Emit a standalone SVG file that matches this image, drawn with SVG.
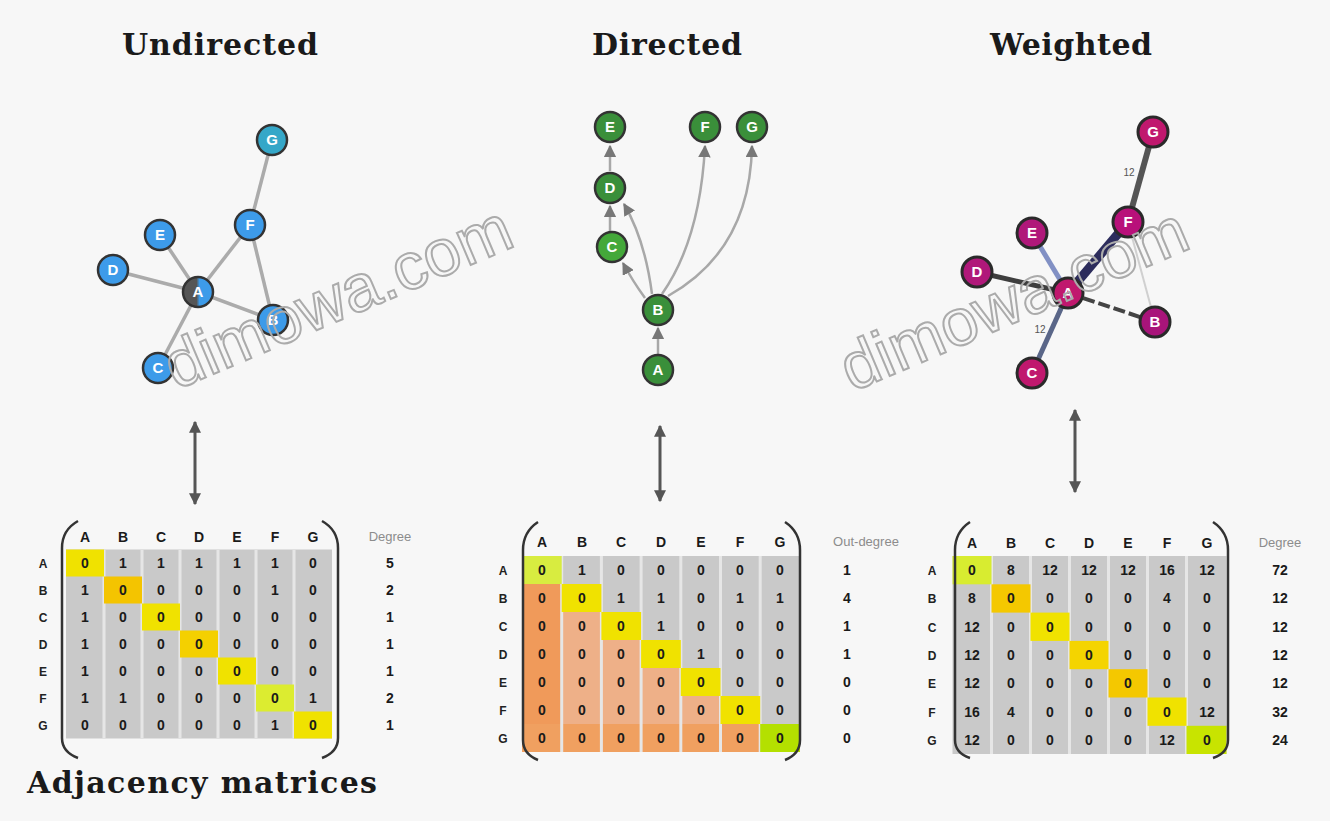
<svg xmlns="http://www.w3.org/2000/svg" width="1330" height="821" viewBox="0 0 1330 821">
<defs>
<style>
.title{font-family:"DejaVu Serif","Liberation Serif",serif;font-weight:bold;font-size:30px;fill:#1a1a1a}
.edgeU{stroke:#ababab;stroke-width:3.5;fill:none}
.edgeD{stroke:#a8a8a8;stroke-width:2.5;fill:none}
.nlab{font-family:"Liberation Sans",Arial,sans-serif;font-weight:bold;font-size:15px;fill:#fff;text-anchor:middle}
.mt{font-family:"Liberation Sans",Arial,sans-serif;font-weight:bold;font-size:14px;fill:#1a1a1a;text-anchor:middle}
.rl{font-family:"Liberation Sans",Arial,sans-serif;font-weight:bold;font-size:12px;fill:#222;text-anchor:middle}
.hd{font-family:"Liberation Sans",Arial,sans-serif;font-size:13px;fill:#8c8c8c;text-anchor:middle}
.paren{stroke:#333;stroke-width:2.5;fill:none}
.wm{font-family:"Liberation Sans",Arial,sans-serif;font-size:66px;fill:none;stroke:#ababab;stroke-width:2}
.dbl{stroke:#555;stroke-width:3;fill:none}
.gray{fill:#c9c9c9}
.diag{fill:#f0e200}
.stripe{stroke:#e6e6e6;stroke-width:3}
.wl{font-family:"Liberation Sans",Arial,sans-serif;font-size:10px;fill:#555;text-anchor:middle}
</style>
<marker id="ah" viewBox="0 0 10 10" refX="9" refY="5" markerWidth="4" markerHeight="4" orient="auto-start-reverse">
<path d="M0,0 L10,5 L0,10 z" fill="#555"/>
</marker>
<marker id="ahs" viewBox="0 0 10 10" refX="9" refY="5" markerWidth="5" markerHeight="5" orient="auto">
<path d="M0,0 L10,5 L0,10 z" fill="#777"/>
</marker>
<linearGradient id="gA" x1="0" y1="0" x2="1" y2="0">
<stop offset="0.45" stop-color="#555"/>
<stop offset="0.55" stop-color="#3d9be9"/>
</linearGradient>
</defs>
<rect width="1330" height="821" fill="#f7f7f7"/>

<!-- Titles -->
<text class="title" x="220" y="55" text-anchor="middle" textLength="196">Undirected</text>
<text class="title" x="667" y="55" text-anchor="middle" textLength="150">Directed</text>
<text class="title" x="1071" y="55" text-anchor="middle" textLength="162">Weighted</text>
<text class="title" x="27" y="793" textLength="350">Adjacency matrices</text>

<!-- Connectors -->
<g id="connectors">
<!-- undirected -->
<line class="edgeU" x1="272" y1="140" x2="250" y2="225"/>
<line class="edgeU" x1="250" y1="225" x2="198" y2="292"/>
<line class="edgeU" x1="250" y1="225" x2="273" y2="320"/>
<line class="edgeU" x1="160" y1="235" x2="198" y2="292"/>
<line class="edgeU" x1="113" y1="270" x2="198" y2="292"/>
<line class="edgeU" x1="198" y1="292" x2="273" y2="320"/>
<line class="edgeU" x1="198" y1="292" x2="158" y2="368"/>
<!-- directed -->
<line class="edgeD" x1="658" y1="354" x2="658" y2="328" marker-end="url(#ahs)"/>
<line class="edgeD" x1="610" y1="231" x2="610" y2="206" marker-end="url(#ahs)"/>
<line class="edgeD" x1="610" y1="171" x2="610" y2="146" marker-end="url(#ahs)"/>
<path class="edgeD" d="M645,298 Q632,280 623,263" marker-end="url(#ahs)"/>
<path class="edgeD" d="M652,294 Q645,240 624,204" marker-end="url(#ahs)"/>
<path class="edgeD" d="M662,294 Q700,240 705,146" marker-end="url(#ahs)"/>
<path class="edgeD" d="M668,296 Q750,250 752,146" marker-end="url(#ahs)"/>
<!-- weighted -->
<line x1="1153" y1="132" x2="1128" y2="222" stroke="#555" stroke-width="6"/>
<line x1="1128" y1="222" x2="1068" y2="293" stroke="#2c2c5c" stroke-width="9"/>
<line x1="1128" y1="222" x2="1155" y2="322" stroke="#d0d0d0" stroke-width="2"/>
<line x1="1032" y1="233" x2="1068" y2="293" stroke="#8190c4" stroke-width="5"/>
<line x1="977" y1="272" x2="1068" y2="293" stroke="#3e3e3e" stroke-width="5"/>
<line x1="1068" y1="293" x2="1155" y2="322" stroke="#444" stroke-width="4" stroke-dasharray="12 4"/>
<line x1="1068" y1="293" x2="1032" y2="373" stroke="#5a6688" stroke-width="5"/>
<text class="wl" x="1129" y="176">12</text>
<text class="wl" x="1040" y="333">12</text>
<!-- double arrows -->
<line class="dbl" x1="195" y1="422" x2="195" y2="504" marker-start="url(#ah)" marker-end="url(#ah)"/>
<line class="dbl" x1="660" y1="426" x2="660" y2="501" marker-start="url(#ah)" marker-end="url(#ah)"/>
<line class="dbl" x1="1075" y1="410" x2="1075" y2="492" marker-start="url(#ah)" marker-end="url(#ah)"/>
</g>

<!-- Undirected nodes -->
<g id="u-G"><circle cx="272" cy="140" r="15" fill="#35a7c8" stroke="#333" stroke-width="2.5"/><text class="nlab" x="272" y="145">G</text></g>
<g id="u-F"><circle cx="250" cy="225" r="15" fill="#3d9be9" stroke="#333" stroke-width="2.5"/><text class="nlab" x="250" y="230">F</text></g>
<g id="u-E"><circle cx="160" cy="235" r="15" fill="#3d9be9" stroke="#333" stroke-width="2.5"/><text class="nlab" x="160" y="240">E</text></g>
<g id="u-D"><circle cx="113" cy="270" r="15" fill="#3d9be9" stroke="#333" stroke-width="2.5"/><text class="nlab" x="113" y="275">D</text></g>
<g id="u-A"><circle cx="198" cy="292" r="15" fill="url(#gA)" stroke="#333" stroke-width="2.5"/><text class="nlab" x="198" y="297">A</text></g>
<g id="u-B"><circle cx="273" cy="320" r="15" fill="#3d9be9" stroke="#333" stroke-width="2.5"/><text class="nlab" x="273" y="325">B</text></g>
<g id="u-C"><circle cx="158" cy="368" r="15" fill="#3d9be9" stroke="#333" stroke-width="2.5"/><text class="nlab" x="158" y="373">C</text></g>

<!-- Directed nodes -->
<g id="d-E"><circle cx="610" cy="127" r="15" fill="#3a8f3a" stroke="#333" stroke-width="2.5"/><text class="nlab" x="610" y="132">E</text></g>
<g id="d-D"><circle cx="610" cy="188" r="15" fill="#3a8f3a" stroke="#333" stroke-width="2.5"/><text class="nlab" x="610" y="193">D</text></g>
<g id="d-C"><circle cx="612" cy="247" r="15" fill="#44a83a" stroke="#333" stroke-width="2.5"/><text class="nlab" x="612" y="252">C</text></g>
<g id="d-F"><circle cx="705" cy="127" r="15" fill="#3a8f3a" stroke="#333" stroke-width="2.5"/><text class="nlab" x="705" y="132">F</text></g>
<g id="d-G"><circle cx="752" cy="127" r="15" fill="#3a8f3a" stroke="#333" stroke-width="2.5"/><text class="nlab" x="752" y="132">G</text></g>
<g id="d-B"><circle cx="658" cy="310" r="15" fill="#3a8f3a" stroke="#333" stroke-width="2.5"/><text class="nlab" x="658" y="315">B</text></g>
<g id="d-A"><circle cx="658" cy="370" r="15" fill="#3a8f3a" stroke="#333" stroke-width="2.5"/><text class="nlab" x="658" y="375">A</text></g>

<!-- Weighted nodes -->
<g id="w-G"><circle cx="1153" cy="132" r="15" fill="#c0186e" stroke="#2a2a2a" stroke-width="3"/><text class="nlab" x="1153" y="137">G</text></g>
<g id="w-F"><circle cx="1128" cy="222" r="15" fill="#b8107a" stroke="#2a2a2a" stroke-width="3"/><text class="nlab" x="1128" y="227">F</text></g>
<g id="w-E"><circle cx="1032" cy="233" r="15" fill="#b0187a" stroke="#2a2a2a" stroke-width="3"/><text class="nlab" x="1032" y="238">E</text></g>
<g id="w-D"><circle cx="977" cy="272" r="15" fill="#b0187a" stroke="#2a2a2a" stroke-width="3"/><text class="nlab" x="977" y="277">D</text></g>
<g id="w-A"><circle cx="1068" cy="293" r="15" fill="#c0186e" stroke="#2a2a2a" stroke-width="3"/><text class="nlab" x="1068" y="298">A</text></g>
<g id="w-B"><circle cx="1155" cy="322" r="15" fill="#a8147a" stroke="#2a2a2a" stroke-width="3"/><text class="nlab" x="1155" y="327">B</text></g>
<g id="w-C"><circle cx="1032" cy="373" r="15" fill="#c0186e" stroke="#2a2a2a" stroke-width="3"/><text class="nlab" x="1032" y="378">C</text></g>

<!-- Watermarks -->
<text class="wm" transform="translate(176,390) rotate(-23)">dimowa.com</text>
<text class="wm" transform="translate(852,392) rotate(-23)">dimowa.com</text>

<!-- Undirected matrix -->
<g id="m-undirected">
<rect class="gray" x="66" y="549.5" width="266" height="189"/>
<g class="stripe">
<line x1="104" y1="550" x2="104" y2="738"/><line x1="142" y1="550" x2="142" y2="738"/><line x1="180" y1="550" x2="180" y2="738"/><line x1="218" y1="550" x2="218" y2="738"/><line x1="256" y1="550" x2="256" y2="738"/><line x1="294" y1="550" x2="294" y2="738"/>
</g>
<rect class="diag" x="66" y="549.5" width="38" height="27"/>
<rect x="104" y="576.5" width="38" height="27" fill="#f4c400"/>
<rect class="diag" x="142" y="603.5" width="38" height="27"/>
<rect x="180" y="630.5" width="38" height="27" fill="#f4d000"/>
<rect class="diag" x="218" y="657.5" width="38" height="27"/>
<rect x="256" y="684.5" width="38" height="27" fill="#dcec30"/>
<rect class="diag" x="294" y="711.5" width="38" height="27"/>
<path class="paren" d="M78,521 Q62,530 62,548 L62,738 Q62,752 78,758"/>
<path class="paren" d="M322,521 Q338,530 338,548 L338,738 Q338,752 322,758"/>
<text class="mt" y="542"><tspan x="85">A</tspan><tspan x="123">B</tspan><tspan x="161">C</tspan><tspan x="199">D</tspan><tspan x="237">E</tspan><tspan x="275">F</tspan><tspan x="313">G</tspan></text>
<text class="hd" x="390" y="541">Degree</text>
<text class="rl" x="43" y="568">A</text><text class="rl" x="43" y="595">B</text><text class="rl" x="43" y="622">C</text><text class="rl" x="43" y="649">D</text><text class="rl" x="43" y="676">E</text><text class="rl" x="43" y="703">F</text><text class="rl" x="43" y="730">G</text>
<text class="mt" y="568"><tspan x="85">0</tspan><tspan x="123">1</tspan><tspan x="161">1</tspan><tspan x="199">1</tspan><tspan x="237">1</tspan><tspan x="275">1</tspan><tspan x="313">0</tspan><tspan x="390">5</tspan></text>
<text class="mt" y="595"><tspan x="85">1</tspan><tspan x="123">0</tspan><tspan x="161">0</tspan><tspan x="199">0</tspan><tspan x="237">0</tspan><tspan x="275">1</tspan><tspan x="313">0</tspan><tspan x="390">2</tspan></text>
<text class="mt" y="622"><tspan x="85">1</tspan><tspan x="123">0</tspan><tspan x="161">0</tspan><tspan x="199">0</tspan><tspan x="237">0</tspan><tspan x="275">0</tspan><tspan x="313">0</tspan><tspan x="390">1</tspan></text>
<text class="mt" y="649"><tspan x="85">1</tspan><tspan x="123">0</tspan><tspan x="161">0</tspan><tspan x="199">0</tspan><tspan x="237">0</tspan><tspan x="275">0</tspan><tspan x="313">0</tspan><tspan x="390">1</tspan></text>
<text class="mt" y="676"><tspan x="85">1</tspan><tspan x="123">0</tspan><tspan x="161">0</tspan><tspan x="199">0</tspan><tspan x="237">0</tspan><tspan x="275">0</tspan><tspan x="313">0</tspan><tspan x="390">1</tspan></text>
<text class="mt" y="703"><tspan x="85">1</tspan><tspan x="123">1</tspan><tspan x="161">0</tspan><tspan x="199">0</tspan><tspan x="237">0</tspan><tspan x="275">0</tspan><tspan x="313">1</tspan><tspan x="390">2</tspan></text>
<text class="mt" y="730"><tspan x="85">0</tspan><tspan x="123">0</tspan><tspan x="161">0</tspan><tspan x="199">0</tspan><tspan x="237">0</tspan><tspan x="275">1</tspan><tspan x="313">0</tspan><tspan x="390">1</tspan></text>
</g>

<!-- Directed matrix -->
<g id="m-directed">
<rect class="gray" x="522" y="556" width="278" height="196"/>
<path d="M522,584 L561.7,584 L561.7,612 L601.4,612 L601.4,640 L641.1,640 L641.1,668 L680.8,668 L680.8,696 L720.5,696 L720.5,724 L760.2,724 L760.2,752 L522,752 Z" fill="#eeb088"/>
<rect x="522" y="584" width="39.7" height="168" fill="#f09a5a"/>
<rect x="522" y="724" width="238.2" height="28" fill="#f0a060"/>
<g class="stripe">
<line x1="561.7" y1="556" x2="561.7" y2="752"/><line x1="601.4" y1="556" x2="601.4" y2="752"/><line x1="641.1" y1="556" x2="641.1" y2="752"/><line x1="680.8" y1="556" x2="680.8" y2="752"/><line x1="720.5" y1="556" x2="720.5" y2="752"/><line x1="760.2" y1="556" x2="760.2" y2="752"/>
</g>
<rect x="522" y="556" width="39.7" height="28" fill="#d8ec40"/>
<rect class="diag" x="561.7" y="584" width="39.7" height="28"/>
<rect class="diag" x="601.4" y="612" width="39.7" height="28"/>
<rect class="diag" x="641.1" y="640" width="39.7" height="28"/>
<rect class="diag" x="680.8" y="668" width="39.7" height="28"/>
<rect class="diag" x="720.5" y="696" width="39.7" height="28"/>
<rect x="760.2" y="724" width="39.8" height="28" fill="#b4e000"/>
<path class="paren" d="M538,522 Q523,532 523,550 L523,740 Q523,754 538,760"/>
<path class="paren" d="M785,522 Q800,532 800,550 L800,740 Q800,754 785,760"/>
<text class="mt" y="547"><tspan x="542">A</tspan><tspan x="582">B</tspan><tspan x="621">C</tspan><tspan x="661">D</tspan><tspan x="701">E</tspan><tspan x="740">F</tspan><tspan x="780">G</tspan></text>
<text class="hd" x="866" y="546">Out-degree</text>
<text class="rl" x="503" y="575">A</text><text class="rl" x="503" y="603">B</text><text class="rl" x="503" y="631">C</text><text class="rl" x="503" y="659">D</text><text class="rl" x="503" y="687">E</text><text class="rl" x="503" y="715">F</text><text class="rl" x="503" y="743">G</text>
<text class="mt" y="575"><tspan x="542">0</tspan><tspan x="582">1</tspan><tspan x="621">0</tspan><tspan x="661">0</tspan><tspan x="701">0</tspan><tspan x="740">0</tspan><tspan x="780">0</tspan><tspan x="847">1</tspan></text>
<text class="mt" y="603"><tspan x="542">0</tspan><tspan x="582">0</tspan><tspan x="621">1</tspan><tspan x="661">1</tspan><tspan x="701">0</tspan><tspan x="740">1</tspan><tspan x="780">1</tspan><tspan x="847">4</tspan></text>
<text class="mt" y="631"><tspan x="542">0</tspan><tspan x="582">0</tspan><tspan x="621">0</tspan><tspan x="661">1</tspan><tspan x="701">0</tspan><tspan x="740">0</tspan><tspan x="780">0</tspan><tspan x="847">1</tspan></text>
<text class="mt" y="659"><tspan x="542">0</tspan><tspan x="582">0</tspan><tspan x="621">0</tspan><tspan x="661">0</tspan><tspan x="701">1</tspan><tspan x="740">0</tspan><tspan x="780">0</tspan><tspan x="847">1</tspan></text>
<text class="mt" y="687"><tspan x="542">0</tspan><tspan x="582">0</tspan><tspan x="621">0</tspan><tspan x="661">0</tspan><tspan x="701">0</tspan><tspan x="740">0</tspan><tspan x="780">0</tspan><tspan x="847">0</tspan></text>
<text class="mt" y="715"><tspan x="542">0</tspan><tspan x="582">0</tspan><tspan x="621">0</tspan><tspan x="661">0</tspan><tspan x="701">0</tspan><tspan x="740">0</tspan><tspan x="780">0</tspan><tspan x="847">0</tspan></text>
<text class="mt" y="743"><tspan x="542">0</tspan><tspan x="582">0</tspan><tspan x="621">0</tspan><tspan x="661">0</tspan><tspan x="701">0</tspan><tspan x="740">0</tspan><tspan x="780">0</tspan><tspan x="847">0</tspan></text>
</g>

<!-- Weighted matrix -->
<g id="m-weighted">
<rect class="gray" x="952.5" y="556" width="274" height="198"/>
<g class="stripe">
<line x1="991.5" y1="556" x2="991.5" y2="754"/><line x1="1030.5" y1="556" x2="1030.5" y2="754"/><line x1="1069.5" y1="556" x2="1069.5" y2="754"/><line x1="1108.5" y1="556" x2="1108.5" y2="754"/><line x1="1147.5" y1="556" x2="1147.5" y2="754"/><line x1="1186.5" y1="556" x2="1186.5" y2="754"/>
</g>
<rect x="952.5" y="556" width="39" height="28.3" fill="#d8ec30"/>
<rect x="991.5" y="584.3" width="39" height="28.3" fill="#f4c800"/>
<rect class="diag" x="1030.5" y="612.6" width="39" height="28.3"/>
<rect x="1069.5" y="640.9" width="39" height="28.3" fill="#f4d400"/>
<rect x="1108.5" y="669.2" width="39" height="28.3" fill="#f4c800"/>
<rect class="diag" x="1147.5" y="697.5" width="39" height="28.3"/>
<rect x="1186.5" y="725.8" width="40" height="28.2" fill="#c8e400"/>
<path class="paren" d="M970,522 Q955,532 955,550 L955,740 Q955,753 970,758"/>
<path class="paren" d="M1213,522 Q1228,532 1228,550 L1228,740 Q1228,753 1213,758"/>
<text class="mt" y="548"><tspan x="972">A</tspan><tspan x="1011">B</tspan><tspan x="1050">C</tspan><tspan x="1089">D</tspan><tspan x="1128">E</tspan><tspan x="1167">F</tspan><tspan x="1207">G</tspan></text>
<text class="hd" x="1280" y="547">Degree</text>
<text class="rl" x="932" y="575">A</text><text class="rl" x="932" y="603">B</text><text class="rl" x="932" y="632">C</text><text class="rl" x="932" y="660">D</text><text class="rl" x="932" y="688">E</text><text class="rl" x="932" y="717">F</text><text class="rl" x="932" y="745">G</text>
<text class="mt" y="575"><tspan x="972">0</tspan><tspan x="1011">8</tspan><tspan x="1050">12</tspan><tspan x="1089">12</tspan><tspan x="1128">12</tspan><tspan x="1167">16</tspan><tspan x="1207">12</tspan><tspan x="1280">72</tspan></text>
<text class="mt" y="603"><tspan x="972">8</tspan><tspan x="1011">0</tspan><tspan x="1050">0</tspan><tspan x="1089">0</tspan><tspan x="1128">0</tspan><tspan x="1167">4</tspan><tspan x="1207">0</tspan><tspan x="1280">12</tspan></text>
<text class="mt" y="632"><tspan x="972">12</tspan><tspan x="1011">0</tspan><tspan x="1050">0</tspan><tspan x="1089">0</tspan><tspan x="1128">0</tspan><tspan x="1167">0</tspan><tspan x="1207">0</tspan><tspan x="1280">12</tspan></text>
<text class="mt" y="660"><tspan x="972">12</tspan><tspan x="1011">0</tspan><tspan x="1050">0</tspan><tspan x="1089">0</tspan><tspan x="1128">0</tspan><tspan x="1167">0</tspan><tspan x="1207">0</tspan><tspan x="1280">12</tspan></text>
<text class="mt" y="688"><tspan x="972">12</tspan><tspan x="1011">0</tspan><tspan x="1050">0</tspan><tspan x="1089">0</tspan><tspan x="1128">0</tspan><tspan x="1167">0</tspan><tspan x="1207">0</tspan><tspan x="1280">12</tspan></text>
<text class="mt" y="717"><tspan x="972">16</tspan><tspan x="1011">4</tspan><tspan x="1050">0</tspan><tspan x="1089">0</tspan><tspan x="1128">0</tspan><tspan x="1167">0</tspan><tspan x="1207">12</tspan><tspan x="1280">32</tspan></text>
<text class="mt" y="745"><tspan x="972">12</tspan><tspan x="1011">0</tspan><tspan x="1050">0</tspan><tspan x="1089">0</tspan><tspan x="1128">0</tspan><tspan x="1167">12</tspan><tspan x="1207">0</tspan><tspan x="1280">24</tspan></text>
</g>
</svg>
